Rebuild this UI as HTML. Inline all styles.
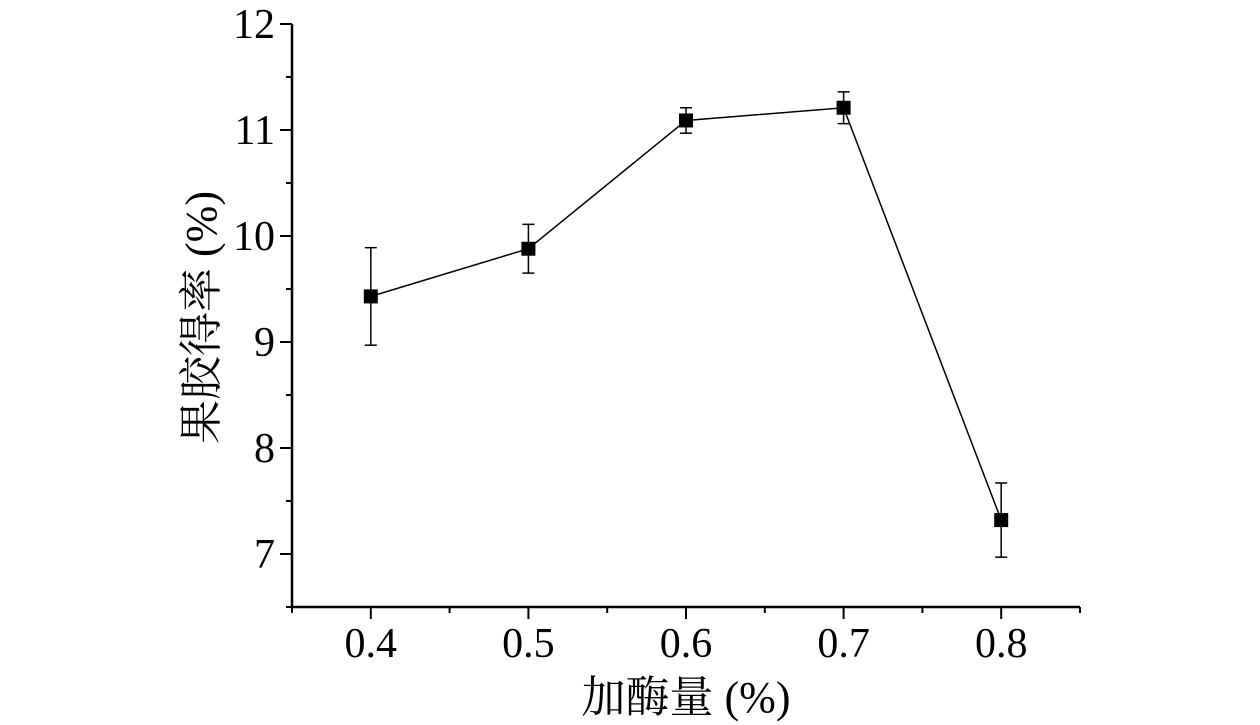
<!DOCTYPE html>
<html><head><meta charset="utf-8"><style>
body{margin:0;background:#fff;}
svg{display:block;}
text{font-family:"Liberation Serif","Noto Serif CJK SC",serif;fill:#000;}
</style></head><body>
<svg id="chart" width="1260" height="725">
<g id="axes"></g><g id="series"></g>
</svg>
<script>
const categories=[0.4,0.5,0.6,0.7,0.8];
const yieldValues=[9.43,9.88,11.09,11.21,7.32];
const errorValues=[0.46,0.23,0.12,0.15,0.35];
const xTickLabels=["0.4","0.5","0.6","0.7","0.8"];
const yTickLabels=["7","8","9","10","11","12"];
const yTicks=[7,8,9,10,11,12];
const NS="http://www.w3.org/2000/svg";
const X0=292,X1=1080,Y0=607,Y1=24;
const xs=v=>X0+(v-0.35)/(0.85-0.35)*(X1-X0);
const ys=v=>Y0-(v-6.5)/(12-6.5)*(Y0-Y1);
function mk(tag,attrs,parent,txt){const e=document.createElementNS(NS,tag);for(const k in attrs)e.setAttribute(k,attrs[k]);if(txt!==undefined)e.textContent=txt;parent.appendChild(e);return e;}
const ax=document.getElementById('axes'),se=document.getElementById('series');
let e=mk('line',{x1:X0,y1:Y1,x2:X0,y2:Y0+1,stroke:'#000','stroke-width':2.5},ax);

e=mk('line',{x1:X0-1,y1:Y0,x2:X1,y2:Y0,stroke:'#000','stroke-width':2.5},ax);

for(let v=6.5;v<=12.001;v+=0.5){const major=Math.abs(v-Math.round(v))<0.01;
 mk('line',{x1:X0-(major?12:6),y1:ys(v),x2:X0,y2:ys(v),stroke:'#000','stroke-width':2},ax);}
yTicks.forEach((v,i)=>{e=mk('text',{x:X0-17,y:ys(v)+14,'text-anchor':'end','font-size':42},ax,yTickLabels[i]);
 });
for(let v=0.35;v<=0.851;v+=0.05){const major=Math.abs(v*10-Math.round(v*10))<0.01;
 mk('line',{x1:xs(v),y1:Y0,x2:xs(v),y2:Y0+(major?12:6),stroke:'#000','stroke-width':2},ax);}
categories.forEach((v,i)=>{e=mk('text',{x:xs(v),y:Y0+50,'text-anchor':'middle','font-size':42},ax,xTickLabels[i]);
 });
e=mk('text',{x:686,y:712,'text-anchor':'middle','font-size':44},ax,'加酶量 (%)');

e=mk('text',{x:0,y:0,'text-anchor':'middle','font-size':44,transform:`translate(216,${(Y0+Y1)/2+2}) rotate(-90)`},ax,'果胶得率 (%)');

e=mk('polyline',{points:categories.map((c,i)=>xs(c)+','+ys(yieldValues[i])).join(' '),fill:'none',stroke:'#000','stroke-width':1.5},se);

categories.forEach((c,i)=>{const x=xs(c),y=ys(yieldValues[i]),t=ys(yieldValues[i]+errorValues[i]),b=ys(yieldValues[i]-errorValues[i]);
 const g=mk('g',{},se);
 
 mk('line',{x1:x,y1:t,x2:x,y2:b,stroke:'#000','stroke-width':1.5},g);
 mk('line',{x1:x-6,y1:t,x2:x+6,y2:t,stroke:'#000','stroke-width':1.5},g);
 mk('line',{x1:x-6,y1:b,x2:x+6,y2:b,stroke:'#000','stroke-width':1.5},g);
 const r=mk('rect',{x:x-7,y:y-7,width:14,height:14,fill:'#000'},se);
 });
</script>
</body></html>
